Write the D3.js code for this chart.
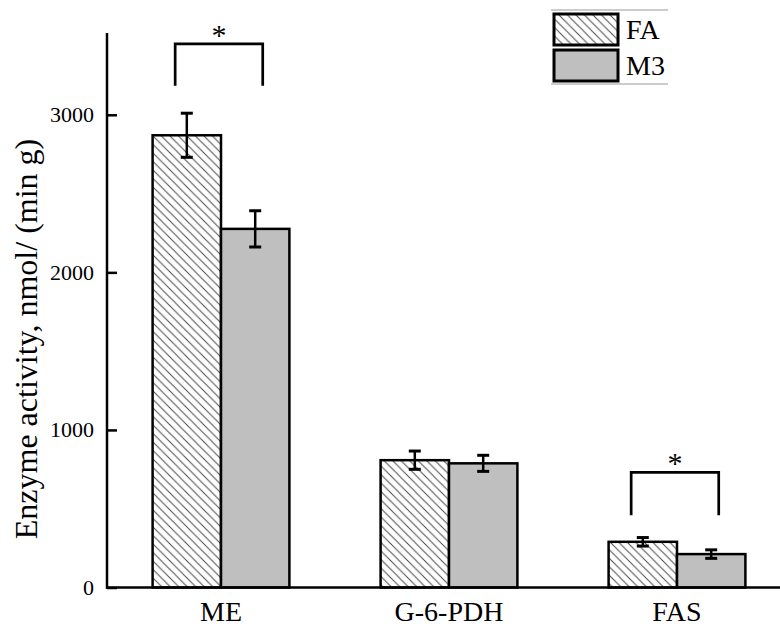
<!DOCTYPE html>
<html>
<head>
<meta charset="utf-8">
<script src="https://cdn.jsdelivr.net/npm/d3@7"></script>
<style>
  html, body { margin: 0; padding: 0; background: #fff; }
  svg { display: block; }
  text { font-family: "Liberation Serif", "DejaVu Serif", serif; fill: #000; }
</style>
</head>
<body>
<div id="chart"></div>
<script>
// ---- data ----
const categories = ["ME", "G-6-PDH", "FAS"];
const seriesNames = ["FA", "M3"];
const faMeans = [2870, 808, 290];
const faErrors = [140, 58, 27];
const m3Means = [2276, 788, 212];
const m3Errors = [115, 51, 27];
const yTicks = [0, 1000, 2000, 3000];
const sigCategories = ["ME", "FAS"];
const sigTop = [3450, 730];
const sigLeg = [3185, 458];
const yTitle = "Enzyme activity, nmol/ (min g)";

// ---- layout ----
const W = 780, H = 628;
const svg = d3.select("#chart").append("svg").attr("width", W).attr("height", H);

const defs = svg.append("defs");
const pat = defs.append("pattern").attr("id", "hatch")
  .attr("patternUnits", "userSpaceOnUse").attr("width", 8.5).attr("height", 8.5);
pat.append("rect").attr("width", 8.5).attr("height", 8.5).attr("fill", "#fff");
pat.append("path").attr("d", "M0,0 L8.5,8.5 M-2,6.5 L2,10.5 M6.5,-2 L10.5,2")
  .attr("stroke", "#4a4a4a").attr("stroke-width", 1);

const x = d3.scaleBand().domain(categories).range([107, 791]).paddingInner(0.4).paddingOuter(0.2);
const xs = d3.scaleBand().domain(seriesNames).range([0, x.bandwidth()]);
const y = d3.scaleLinear().domain([0, 3500]).range([587.5, 36]);

const fills = { FA: "url(#hatch)", M3: "#bfbfbf" };
const rows = [];
categories.forEach((c, i) => {
  rows.push({ cat: c, s: "FA", v: faMeans[i], e: faErrors[i] });
  rows.push({ cat: c, s: "M3", v: m3Means[i], e: m3Errors[i] });
});

// bars
svg.append("g").selectAll("rect").data(rows).join("rect")
  .attr("x", d => x(d.cat) + xs(d.s))
  .attr("y", d => y(d.v))
  .attr("width", xs.bandwidth())
  .attr("height", d => y(0) - y(d.v))
  .attr("fill", d => fills[d.s])
  .attr("stroke", "#000").attr("stroke-width", 2.5);

// error bars
const eb = svg.append("g").attr("stroke", "#000");
rows.forEach(d => {
  const cx = x(d.cat) + xs(d.s) + xs.bandwidth() / 2;
  eb.append("line").attr("x1", cx).attr("x2", cx).attr("y1", y(d.v + d.e)).attr("y2", y(d.v - d.e)).attr("stroke-width", 2.5);
  [d.v + d.e, d.v - d.e].forEach(v => {
    eb.append("line").attr("x1", cx - 6).attr("x2", cx + 6).attr("y1", y(v)).attr("y2", y(v)).attr("stroke-width", 3);
  });
});

// axes
const yAxis = d3.axisLeft(y).tickValues(yTicks).tickFormat(d3.format("d"))
  .tickSizeInner(-10).tickSizeOuter(0).tickPadding(13);
const gy = svg.append("g").attr("transform", "translate(107,0)").call(yAxis);
gy.select(".domain").remove();
gy.selectAll(".tick line").attr("stroke", "#000").attr("stroke-width", 2.5);
gy.selectAll(".tick text").attr("font-family", "Liberation Serif").attr("font-size", 22).attr("fill", "#000");
svg.append("line").attr("x1", 107).attr("x2", 107).attr("y1", y(0) + 1.25).attr("y2", 33)
  .attr("stroke", "#000").attr("stroke-width", 2.5);

const xAxis = d3.axisBottom(x).tickSize(0).tickPadding(14);
const gx = svg.append("g").attr("transform", `translate(0,${y(0)})`).call(xAxis);
gx.select(".domain").remove();
gx.selectAll(".tick text").attr("font-family", "Liberation Serif").attr("font-size", 28).attr("fill", "#000");
svg.append("line").attr("x1", 106).attr("x2", 780).attr("y1", y(0)).attr("y2", y(0))
  .attr("stroke", "#000").attr("stroke-width", 2.5);

// y title
svg.append("text")
  .attr("transform", `translate(37,339) rotate(-90)`)
  .attr("text-anchor", "middle")
  .attr("font-size", 32)
  .text(yTitle);

// significance brackets
const sg = svg.append("g");
sigCategories.forEach((c, i) => {
  const x1 = x(c) + x.bandwidth() * 0.165;
  const x2 = x(c) + x.bandwidth() * 0.805;
  sg.append("path")
    .attr("d", `M${x1},${y(sigLeg[i])} L${x1},${y(sigTop[i])} L${x2},${y(sigTop[i])} L${x2},${y(sigLeg[i])}`)
    .attr("fill", "none").attr("stroke", "#000").attr("stroke-width", 2.7);
  sg.append("text").attr("x", (x1 + x2) / 2).attr("y", y(sigTop[i]) + 1)
    .attr("text-anchor", "middle").attr("font-size", 30).text("*");
});

// legend
const lg = svg.append("g");
lg.append("line").attr("x1", 551).attr("x2", 668).attr("y1", 10).attr("y2", 10).attr("stroke", "#999").attr("stroke-width", 1.2);
lg.append("line").attr("x1", 551).attr("x2", 668).attr("y1", 84).attr("y2", 84).attr("stroke", "#999").attr("stroke-width", 1.2);
seriesNames.forEach((s, i) => {
  const top = 14 + i * 36;
  lg.append("rect").attr("x", 554).attr("y", top).attr("width", 64).attr("height", 31)
    .attr("fill", fills[s]).attr("stroke", "#000").attr("stroke-width", 3);
  lg.append("text").attr("x", 626).attr("y", top + 25).attr("font-size", 28).text(s);
});
</script>
</body>
</html>
